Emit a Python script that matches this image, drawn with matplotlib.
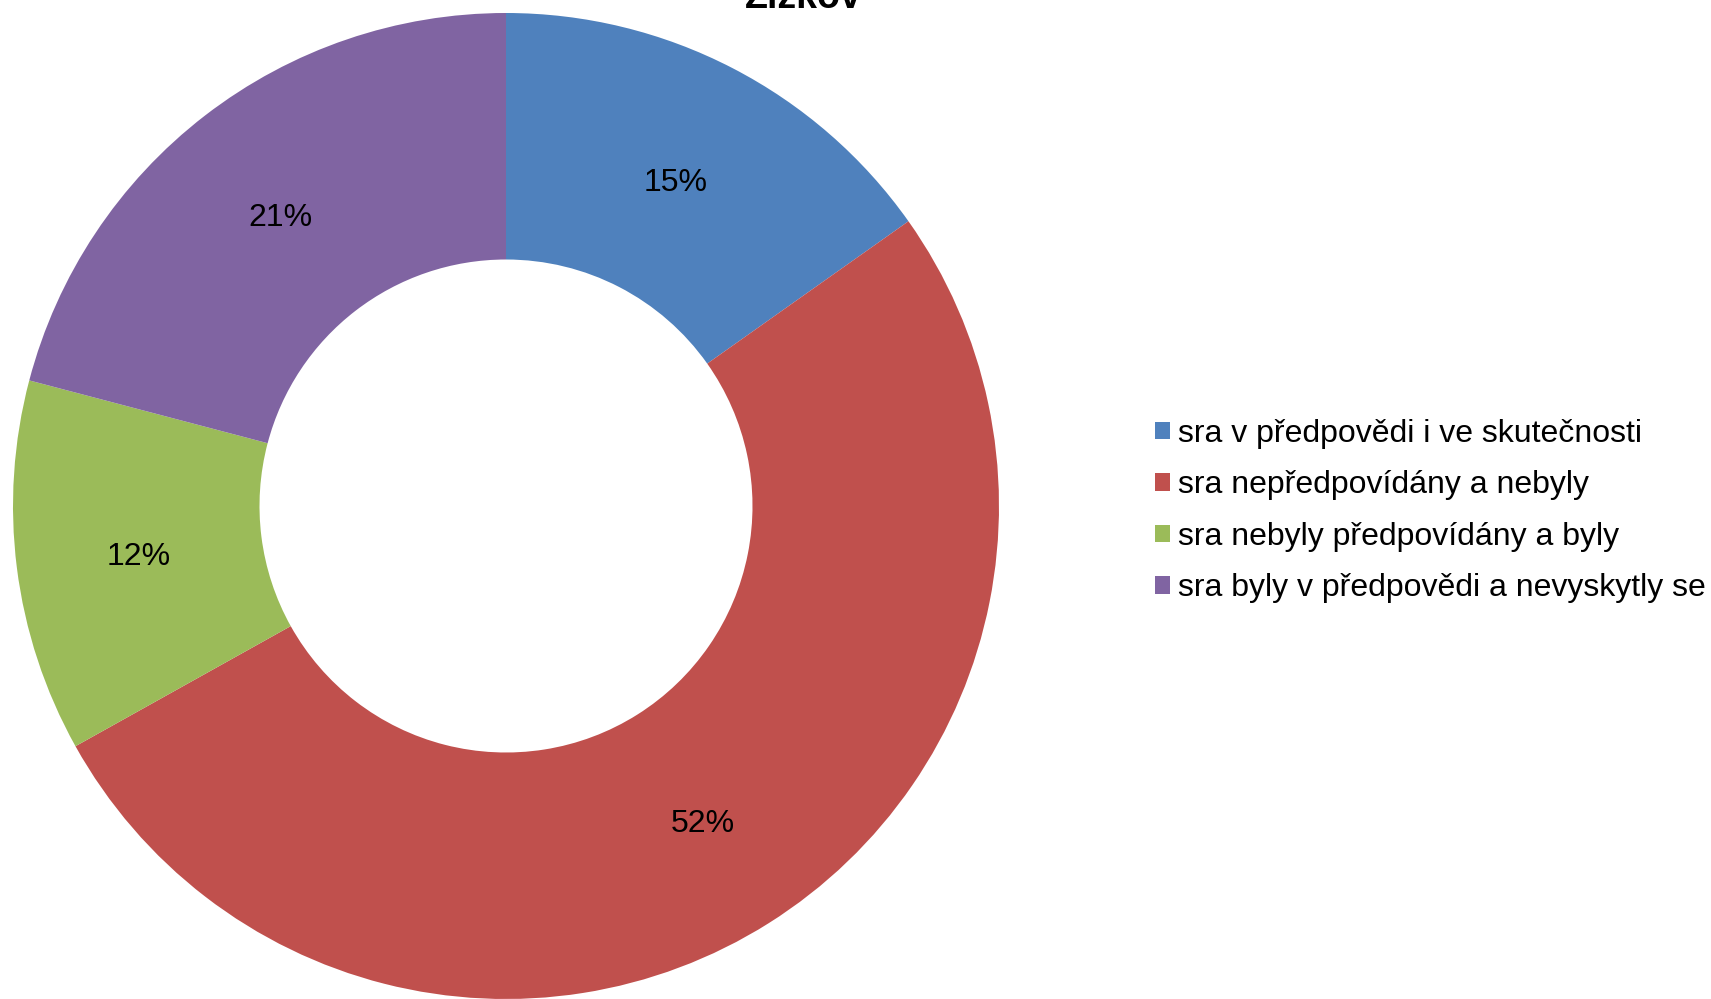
import matplotlib
matplotlib.use("Agg")
import matplotlib.pyplot as plt
from matplotlib.patches import Patch
from matplotlib.transforms import ScaledTranslation

plt.rcParams['font.family'] = ['Liberation Sans', 'DejaVu Sans']

title = "Žižkov"
categories = ["sra v předpovědi i ve skutečnosti",
              "sra nepředpovídány a nebyly",
              "sra nebyly předpovídány a byly",
              "sra byly v předpovědi a nevyskytly se"]
values = [15.2, 51.7, 12.2, 20.9]
colors = ["#4F81BD", "#C0504D", "#9BBB59", "#8064A2"]

W, H = 1711, 999
fig = plt.figure(figsize=(W/100, H/100), dpi=100)
cx, cy, R = 506, 506, 493
ax = fig.add_axes([(cx-R)/W, (H-cy-R)/H, 2*R/W, 2*R/H])
wedges, texts, autotexts = ax.pie(values, colors=colors, startangle=90, counterclock=False,
       radius=1, wedgeprops=dict(width=0.5, linewidth=0),
       autopct=lambda p: f"{p:.0f}%", pctdistance=0.75,
       textprops=dict(fontsize=23, color="black"))
shift = ScaledTranslation(0, -5/100, fig.dpi_scale_trans)
for t in autotexts:
    t.set_transform(ax.transData + shift)
ax.set_xlim(-1, 1)
ax.set_ylim(-1, 1)
ax.set_aspect('equal')
ax.axis('off')

fig.text(803/W, 1-8/H, title, ha='center', va='baseline', fontsize=27, fontweight='bold')

handles = [Patch(facecolor=c, edgecolor='none') for c in colors]
leg = fig.legend(handles, categories, loc='center left', bbox_to_anchor=(1155/W, 1-511/H),
                 frameon=False, fontsize=23, handlelength=0.47, handleheight=0.47,
                 handletextpad=0.25, labelspacing=0.67, borderpad=0, borderaxespad=0)

fig.savefig("out.png", dpi=100)
